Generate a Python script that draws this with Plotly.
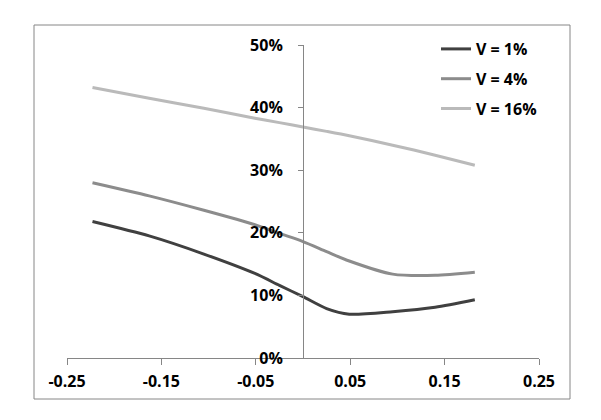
import plotly.graph_objects as go

# log-moneyness values
x_vals = [-0.223, -0.163, -0.105, -0.051, -0.025, 0.0, 0.025, 0.049, 0.095, 0.140, 0.182]
v1 = [0.218, 0.195, 0.166, 0.135, 0.116, 0.098, 0.079, 0.070, 0.074, 0.081, 0.093]
v4 = [0.280, 0.259, 0.236, 0.213, 0.199, 0.186, 0.170, 0.155, 0.134, 0.132, 0.137]
v16 = [0.432, 0.415, 0.399, 0.383, 0.376, 0.369, 0.362, 0.355, 0.340, 0.324, 0.308]
series_names = ["V = 1%", "V = 4%", "V = 16%"]
series_colors = ["#404040", "#8c8c8c", "#bababa"]
x_tickvals = [-0.25, -0.15, -0.05, 0.05, 0.15, 0.25]
x_ticktext = ["-0.25", "-0.15", "-0.05", "0.05", "0.15", "0.25"]

FONT = "Open Sans"
FS = 16
fig = go.Figure()
for i, (name, ys, col) in enumerate(zip(series_names, [v1, v4, v16], series_colors)):
    fig.add_trace(go.Scatter(x=x_vals, y=ys, mode="lines", name=name,
                             line=dict(color=col, width=3, shape="spline", smoothing=0.7),
                             legendgroup=f"g{i}"))

W, H = 601, 420
ml, mr, mt, mb = 67, 62, 45, 62
pw = W - ml - mr
ph = H - mt - mb

def px_to_paper_x(px):
    return (px - ml) / pw

def px_to_paper_y(py):
    return (H - mb - py) / ph

axis_col = "#868686"
fig.update_layout(
    width=W, height=H,
    margin=dict(l=ml, r=mr, t=mt, b=mb, pad=0),
    paper_bgcolor="white", plot_bgcolor="white",
    font=dict(family=FONT, size=FS, color="black"),
    xaxis=dict(range=[-0.25, 0.25], tickvals=x_tickvals, ticktext=x_ticktext,
               showgrid=False, zeroline=False, showline=True, linecolor=axis_col,
               linewidth=1, ticks="outside", ticklen=6, tickcolor=axis_col,
               tickfont=dict(family=FONT, size=FS, color="black", weight="bold"),
               ticklabelstandoff=3, fixedrange=True),
    yaxis=dict(range=[0, 0.5], dtick=0.1, tickformat=".0%", anchor="free", position=0.5,
               showgrid=False, zeroline=False, showline=True, linecolor=axis_col,
               linewidth=1, ticks="outside", ticklen=5, tickcolor=axis_col,
               tickfont=dict(family=FONT, size=FS, color="black", weight="bold"),
               ticklabelstandoff=12, fixedrange=True),
    legend=dict(x=px_to_paper_x(436), y=px_to_paper_y(32), xanchor="left", yanchor="top",
                font=dict(family=FONT, size=FS, color="black", weight="bold"),
                bgcolor="rgba(0,0,0,0)", tracegroupgap=6),
    shapes=[dict(type="rect", xref="paper", yref="paper",
                 x0=px_to_paper_x(34), x1=px_to_paper_x(570),
                 y0=px_to_paper_y(399), y1=px_to_paper_y(25),
                 line=dict(color=axis_col, width=1), fillcolor="rgba(0,0,0,0)", layer="below")],
)
fig.write_html("out.html")
